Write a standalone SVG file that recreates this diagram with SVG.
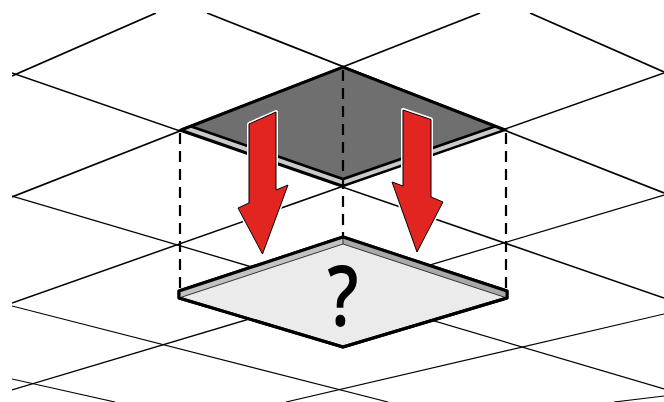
<svg xmlns="http://www.w3.org/2000/svg" width="664" height="402" viewBox="0 0 664 402">
<style>
.g{stroke:#000;fill:none;stroke-linecap:butt}
.g1{stroke-width:1.7}
.g2{stroke-width:1.5}
.g3{stroke-width:1.3}
.g4{stroke-width:1.15}
.dash{stroke:#000;stroke-width:2.2;stroke-dasharray:11 7;fill:none}
.halo{fill:none;stroke:#fff;stroke-width:4;stroke-linejoin:round}
.arrow{fill:#e32522;stroke:#000;stroke-width:1;stroke-linejoin:miter}
.q{font-family:"Open Sans","DejaVu Sans",sans-serif;font-size:84px;font-weight:600;fill:#000}
</style>
<defs>
<clipPath id="clip"><rect x="12" y="13" width="652" height="389"/></clipPath>
</defs>
<g id="grid" clip-path="url(#clip)">
<line class="g g1" x1="530" y1="13" x2="664" y2="72"/>
<line class="g g1" x1="207" y1="13" x2="664" y2="193"/>
<line class="g g2" x1="12" y1="73" x2="664" y2="298"/>
<line class="g g3" x1="12" y1="196" x2="664" y2="389"/>
<line class="g g4" x1="12" y1="306" x2="388" y2="402"/>
<line class="g g4" x1="12" y1="379" x2="115" y2="402"/>
<line class="g g1" x1="12" y1="76" x2="156" y2="13"/>
<line class="g g1" x1="12" y1="197" x2="480" y2="13"/>
<line class="g g2" x1="12" y1="303" x2="664" y2="73"/>
<line class="g g3" x1="12" y1="390" x2="664" y2="195"/>
<line class="g g4" x1="286" y1="402" x2="664" y2="314"/>
<line class="g g4" x1="614" y1="402" x2="664" y2="396"/>
</g>
<g id="ceiling-opening">
<polygon points="343,67 181,130 343,186 505,130" fill="#cacaca" stroke="#000" stroke-width="2.4" stroke-linejoin="miter"/>
<polygon points="343,67 190.5,126.3 343,179 495.5,126.3" fill="#6f6f6f" stroke="none"/>
<polyline points="190.5,126.3 343,179 495.5,126.3" fill="none" stroke="#000" stroke-width="2.6"/>
<polyline points="181,130 343,67 505,130" fill="none" stroke="#000" stroke-width="3"/>
</g>
<g id="connectors">
<line class="dash" x1="180" y1="133" x2="180" y2="290"/>
<line class="dash" x1="343" y1="70" x2="343" y2="236"/>
<line class="dash" x1="506" y1="133" x2="506" y2="290"/>
</g>
<g id="tile">
<polygon points="343,237 507,291 507,298 343,347 179,298 179,291" fill="#ebebeb" stroke="#000" stroke-width="3" stroke-linejoin="round"/>
<polygon points="343,237 179,291 179,298 343,244" fill="#c2c2c2"/>
<polygon points="343,237 507,291 507,298 343,244" fill="#a9a9a9"/>
<polyline points="179,298 343,244 507,298" fill="none" stroke="#333" stroke-width="1"/>
<line x1="343" y1="237" x2="343" y2="244" stroke="#333" stroke-width="1"/>
<polygon points="343,237 507,291 507,298 343,347 179,298 179,291" fill="none" stroke="#000" stroke-width="3" stroke-linejoin="round"/>
<text class="q" transform="translate(343,326) scale(0.82,1)" x="0" y="0" text-anchor="middle">?</text>
</g>
<g id="arrow-left">
<polygon class="halo" points="249,124 276,112 276,190 288,185 262.5,254 238,208 249,203"/>
<polygon class="arrow" points="249,124 276,112 276,190 288,185 262.5,254 238,208 249,203"/>
</g>
<g id="arrow-right">
<polygon class="halo" points="403,110 431,119.5 431,197 443,202 417,252 392,182 403,186"/>
<polygon class="arrow" points="403,110 431,119.5 431,197 443,202 417,252 392,182 403,186"/>
</g>
</svg>
